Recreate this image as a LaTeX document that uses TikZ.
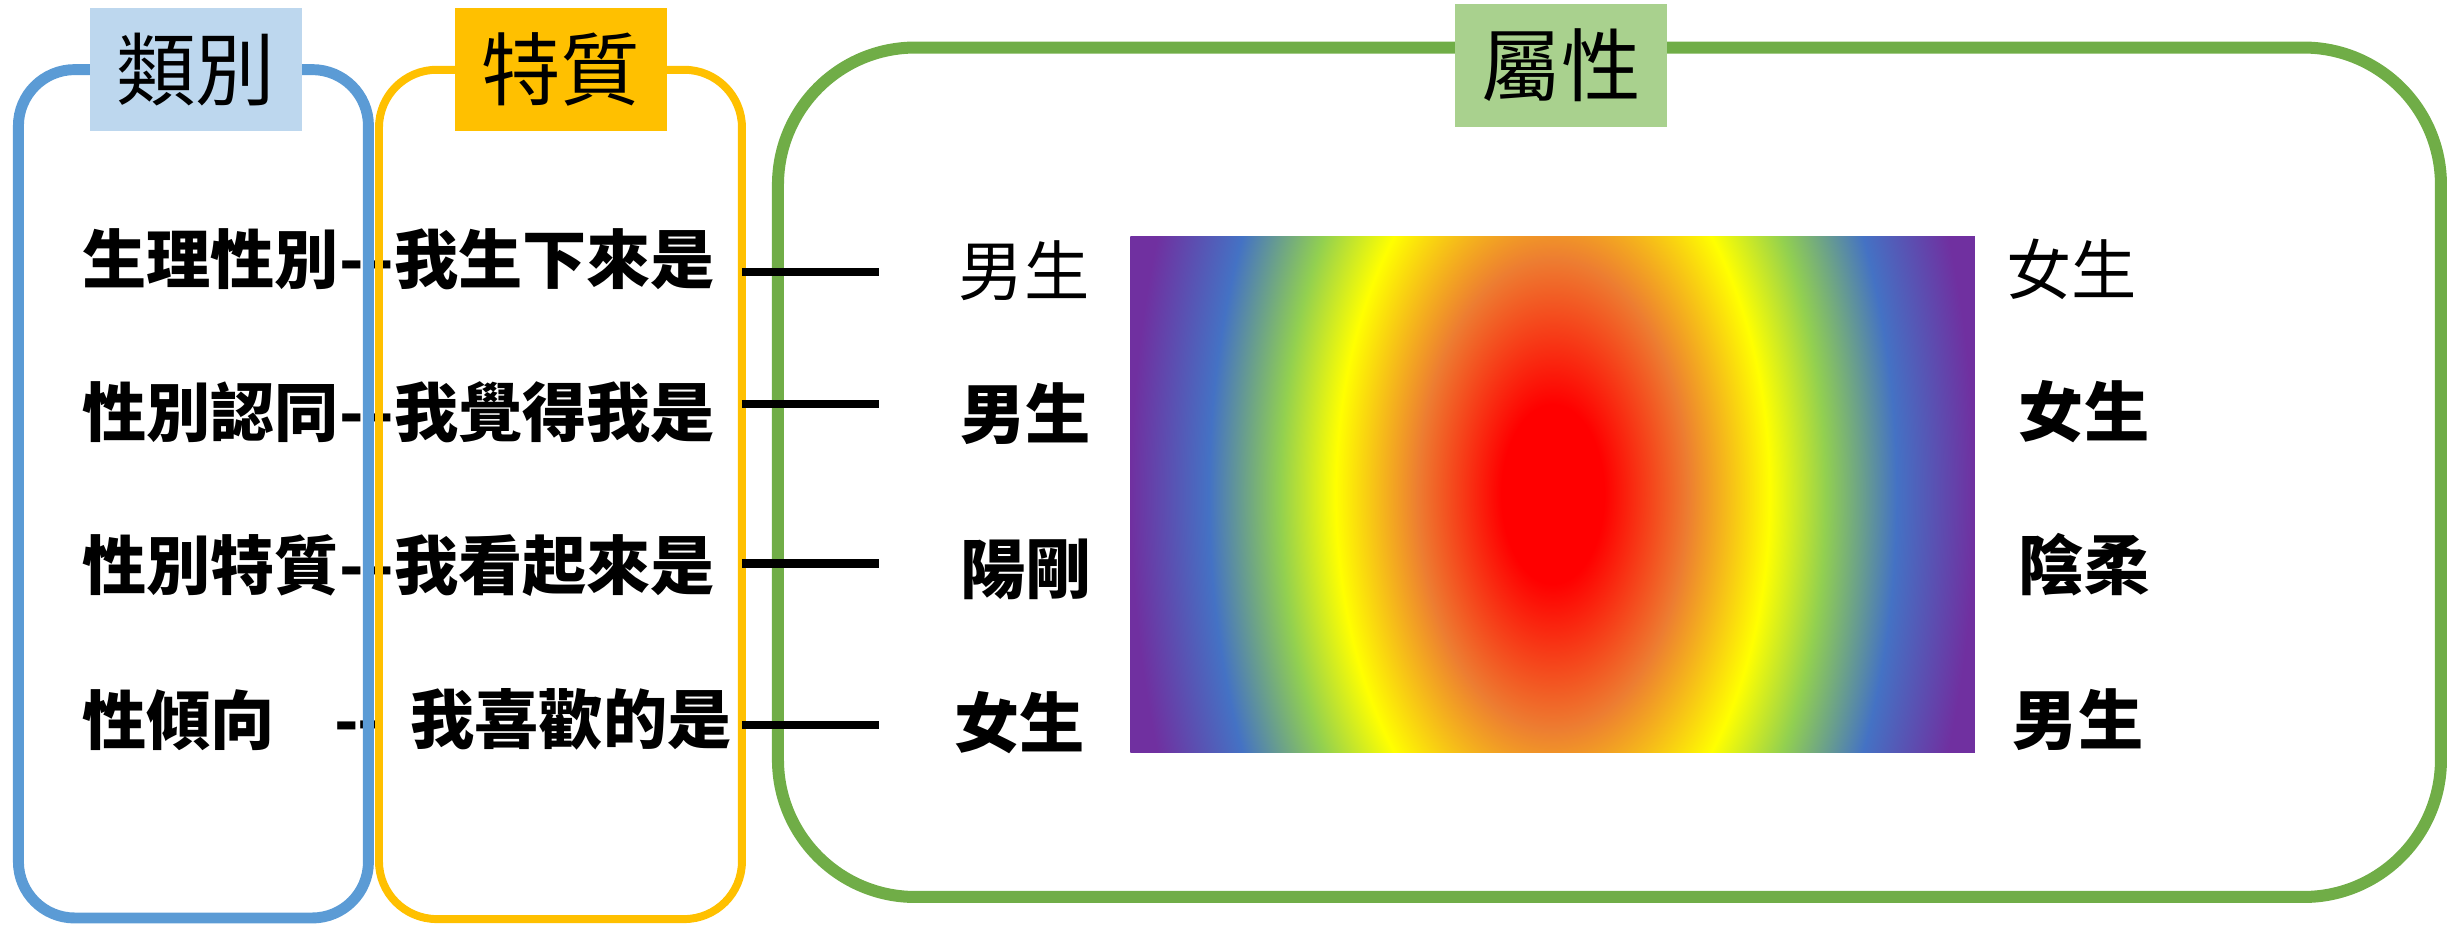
\documentclass[tikz,border=0pt]{standalone}
\usepackage{fontspec}
\newfontfamily\cjk{Noto Sans CJK TC}

\definecolor{catblu}{HTML}{5B9BD5}
\definecolor{catfill}{HTML}{BDD7EE}
\definecolor{featoro}{HTML}{FFC000}
\definecolor{attrverde}{HTML}{70AD47}
\definecolor{attrfill}{HTML}{A9D18E}
\definecolor{spRosso}{HTML}{FF0000}
\definecolor{spArancio}{HTML}{ED7D31}
\definecolor{spGiallo}{HTML}{FFFF00}
\definecolor{spVerde}{HTML}{92D050}
\definecolor{spBlu}{HTML}{4472C4}
\definecolor{spViola}{HTML}{7030A0}

% Sfumatura radiale dello spettro (25bp = mezza larghezza)
\pgfdeclareradialshading{arcobaleno}{\pgfpoint{0bp}{0bp}}{%
  color(0bp)=(spRosso); color(3.05bp)=(spRosso); color(8bp)=(spArancio);
  color(12.85bp)=(spGiallo); color(16.15bp)=(spVerde); color(20.35bp)=(spBlu);
  color(25bp)=(spViola); color(100bp)=(spViola)}

\begin{document}
\begin{tikzpicture}[x=0.1mm, y=-0.1mm,
    cornice/.style={draw, rounded corners=#1, inner sep=0pt, outer sep=0pt},
    etichetta/.style={inner sep=0pt, minimum width=13.6mm, minimum height=7.9mm, font=\cjk\fontsize{14.5pt}{16pt}\selectfont},
    voce/.style={inner sep=0pt, anchor=west, font=\cjk\bfseries\fontsize{11.7pt}{14pt}\selectfont},
    polo/.style={inner sep=0pt, font=\cjk\bfseries\fontsize{11.9pt}{14pt}\selectfont},
    polosottile/.style={polo, font=\cjk\fontsize{11.9pt}{14pt}\selectfont},
    legame/.style={line width=0.53mm, black}]

        \useasboundingbox (0,0) rectangle (1568,592);

        % =========================================
        % === SPETTRO (al centro) ===
        % =========================================
        \node[inner sep=0pt, minimum width=54.1mm, minimum height=32.9mm] (spettro) at (994.5,316.5) {};
        \begin{scope}
            \clip (spettro.south west) rectangle (spettro.north east);
            \shade[shading=arcobaleno] (724,-154) rectangle (1265,787);
        \end{scope}

        % Categorie e frasi
        \node[voce] (c1) at (52,166) {生理性別-};
        \node[voce] (c2) at (52,264) {性別認同-};
        \node[voce] (c3) at (52,362) {性別特質-};
        \node[voce] (c4) at (52,461) {性傾向\hspace{3.8mm}-};

        \node[voce] (t1) at (236,166) {-我生下來是};
        \node[voce] (t2) at (236,264) {-我覺得我是};
        \node[voce] (t3) at (236,362) {-我看起來是};
        \node[voce] (t4) at (228,461) {-\hspace{1.85mm}我喜歡的是};

        % Poli (sinistra e destra dello spettro)
        \node[polosottile] (m1) at (656,173.6) {男生};
        \node[polo] (m2) at (657,265) {男生};
        \node[polo] (m3) at (657,365) {陽剛};
        \node[polo] (m4) at (653,463) {女生};

        \node[polosottile] (f1) at (1327,172.6) {女生};
        \node[polo] (f2) at (1335,263.6) {女生};
        \node[polo] (f3) at (1335,361.6) {陰柔};
        \node[polo] (f4) at (1331,461) {男生};

        % =========================================
        % === CORNICI ===
        % =========================================
        \node[cornice=3.6mm, draw=catblu, line width=0.7mm, minimum width=22.42mm, minimum height=54.34mm] (catbox) at (123.9,316.3) {};
        \node[cornice=3.7mm, draw=featoro, line width=0.51mm, minimum width=23.25mm, minimum height=54.4mm] (featbox) at (359,316.7) {};
        \node[cornice=8.8mm, draw=attrverde, line width=0.77mm, minimum width=106.52mm, minimum height=54.41mm] (attrbox) at (1030.9,302.5) {};

        % Linee verso i poli
        \foreach \i/\y in {1/174, 2/259, 3/361, 4/464.6} {
            \coordinate (e\i) at (563,\y);
            \draw[legame] (featbox.east |- e\i) -- (e\i);
        }

        % Titoli delle cornici
        \node[etichetta, fill=catfill] (cattag) at (125.5,44.5) {類別};
        \node[etichetta, fill=featoro] (feattag) at (359.2,44.5) {特質};
        \node[etichetta, fill=attrfill] (attrtag) at (1000,42) {屬性};

    \end{tikzpicture}
\end{document}
